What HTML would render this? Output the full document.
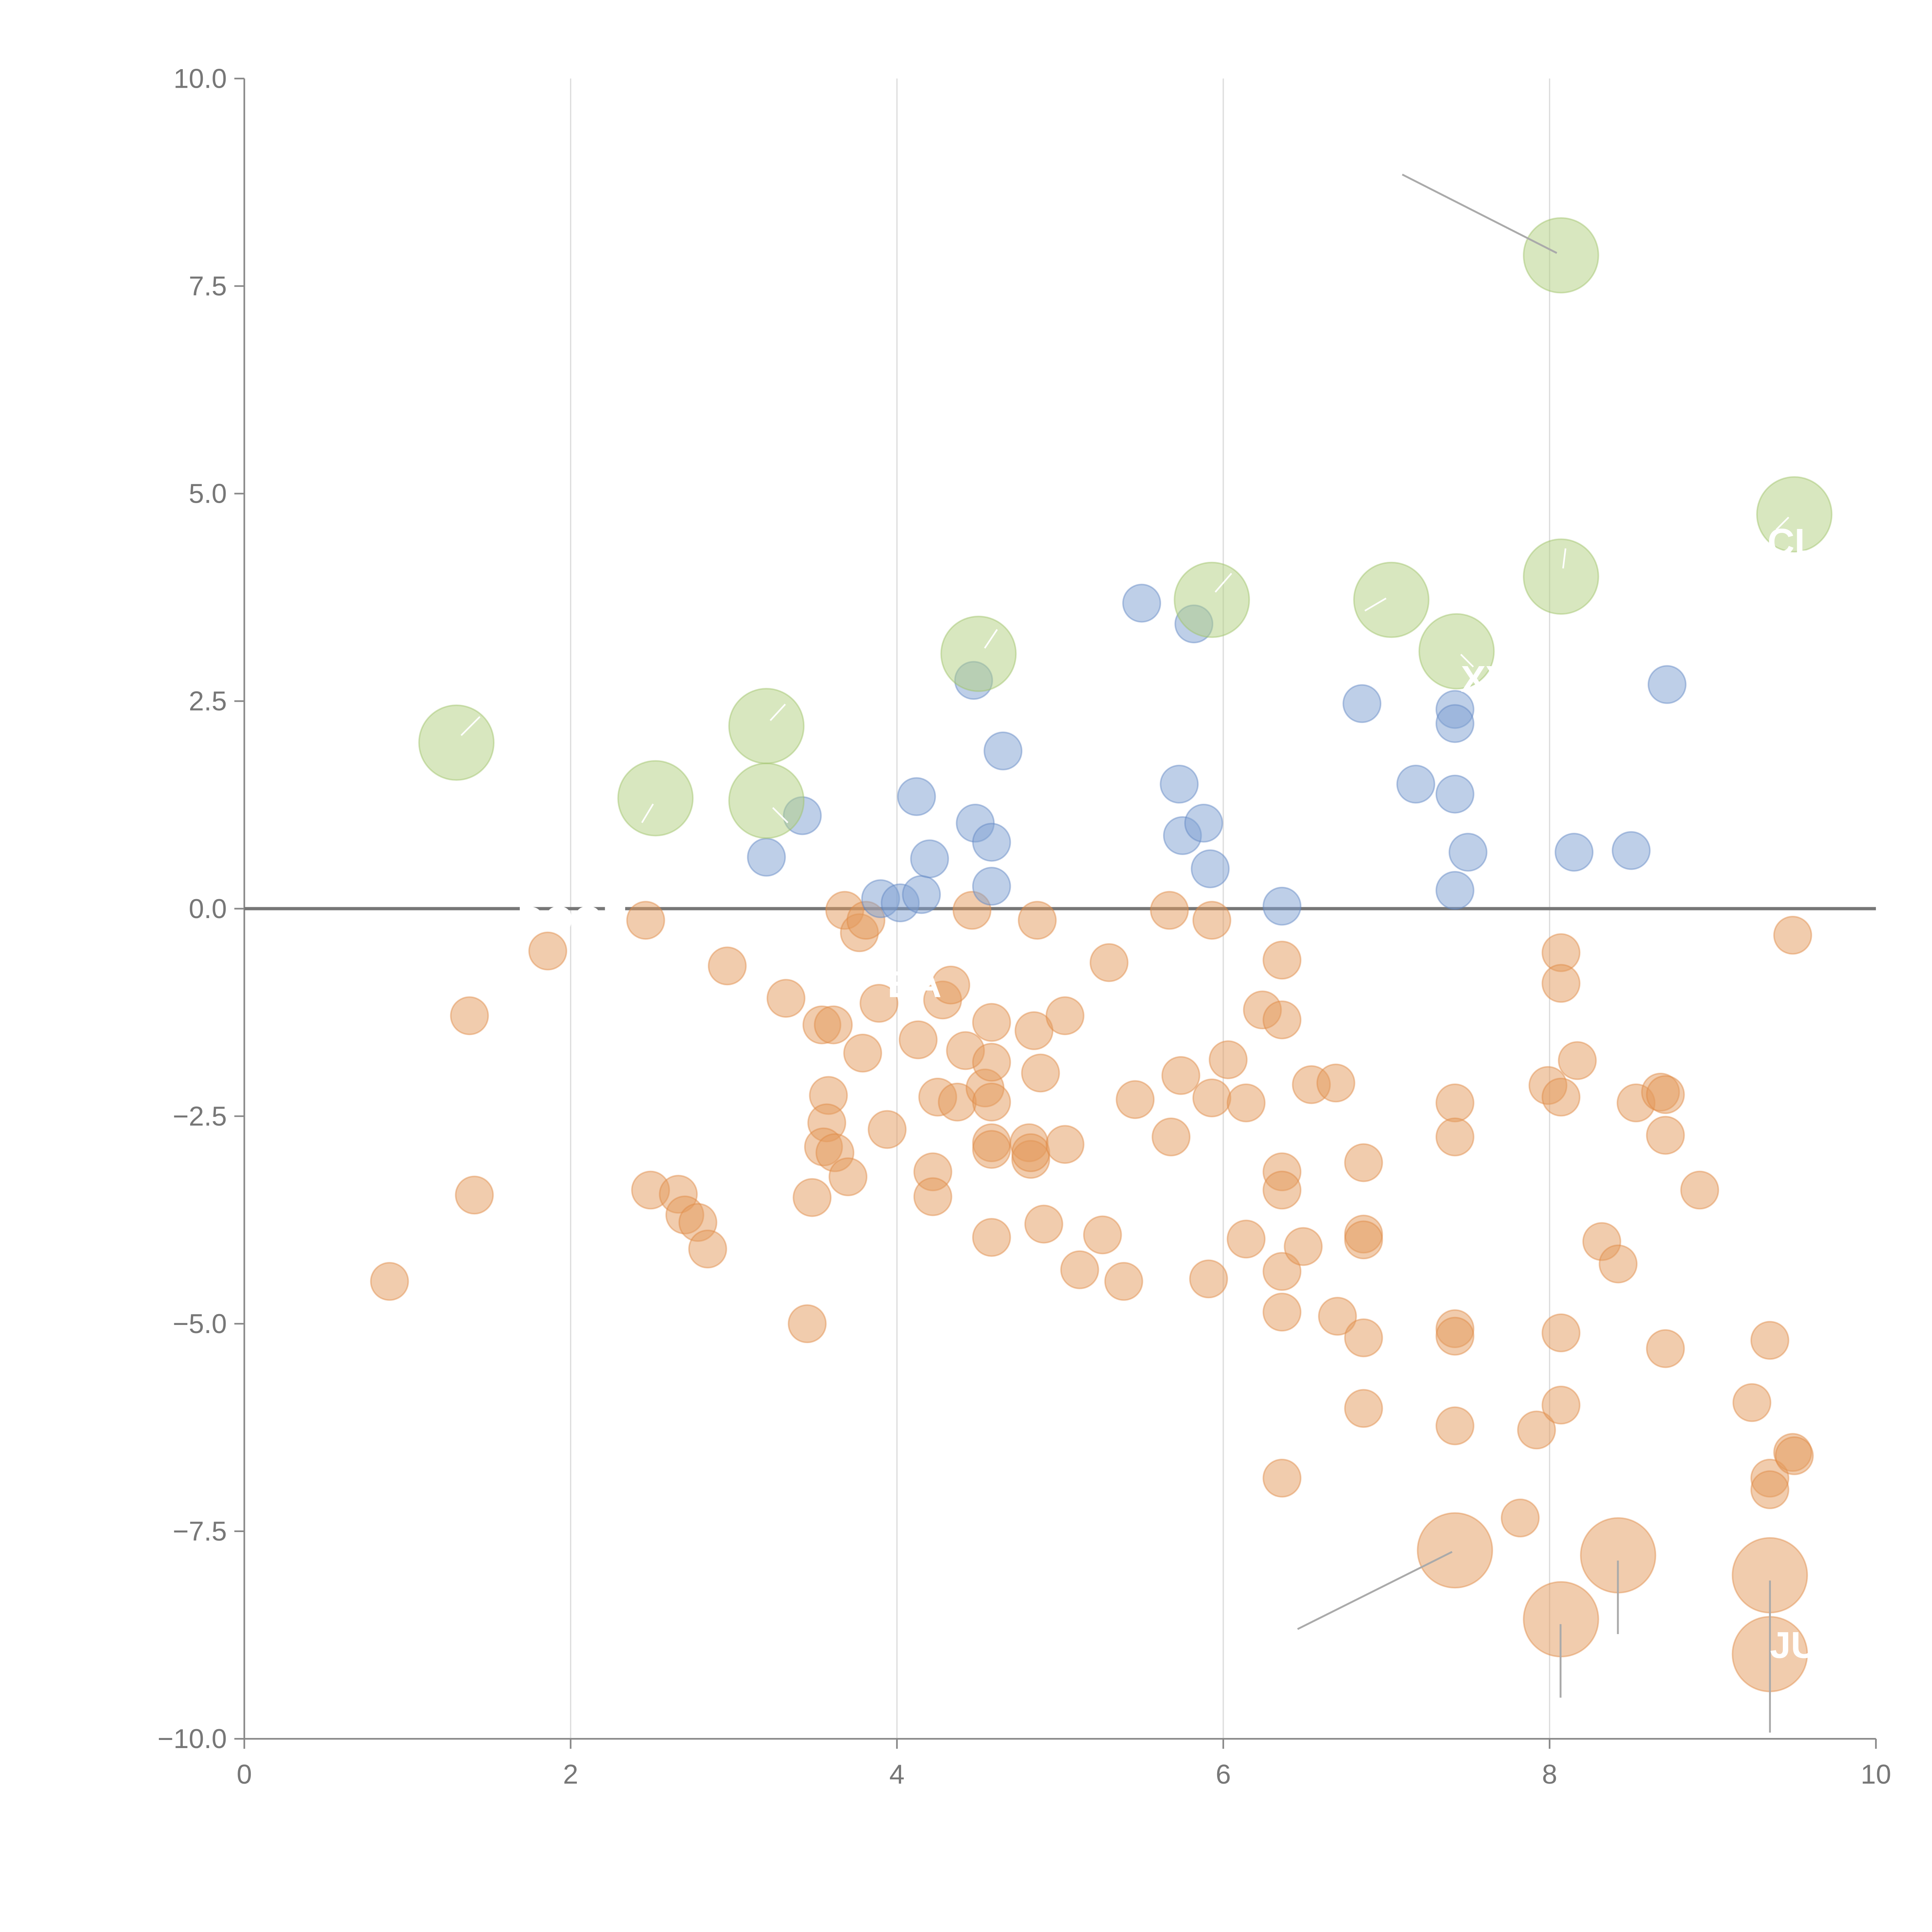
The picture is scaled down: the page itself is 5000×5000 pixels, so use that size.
<!DOCTYPE html>
<html><head><meta charset="utf-8">
<style>
html,body{margin:0;padding:0;background:#fff;}
svg{display:block;}
text{font-family:"Liberation Sans",sans-serif;}
</style></head>
<body>
<svg id="chart" width="5000" height="5000" viewBox="0 0 1550 1550" xmlns="http://www.w3.org/2000/svg">
<rect width="1550" height="1550" fill="#fff"/>
<g id="grid"></g>
<g id="axes"></g>
<g id="marks"></g>
<g id="annot"></g>
</svg>
<script>
const xTicks=[0,2,4,6,8,10];
const yTicks=[10,7.5,5,2.5,0,-2.5,-5,-7.5,-10];
const yTickLabels=["10.0","7.5","5.0","2.5","0.0","−2.5","−5.0","−7.5","−10.0"];
const greenX=[1.3,2.52,3.2,3.2,4.5,5.93,7.03,7.43,8.07,8.07,9.5];
const greenY=[2.0,1.33,2.2,1.3,3.07,3.72,3.72,3.1,4.0,7.87,4.75];
const blueX=[3.2,3.42,3.9,4.02,4.15,4.12,4.2,4.47,4.48,4.58,4.58,4.65,5.5,5.73,5.75,5.82,5.88,5.92,6.36,6.85,7.18,7.42,7.42,7.42,7.42,7.5,8.15,8.5,8.72];
const blueY=[0.62,1.12,0.12,0.07,0.17,1.35,0.6,2.75,1.03,0.8,0.27,1.9,3.68,1.5,0.88,3.43,1.03,0.48,0.03,2.47,1.5,2.4,2.23,1.38,0.22,0.68,0.68,0.7,2.7];
const orangeX=[0.89,1.38,1.41,1.86,2.46,2.49,2.66,2.70,2.78,2.84,2.96,3.32,3.45,3.48,3.54,3.58,3.57,3.55,3.62,3.61,3.70,3.68,3.77,3.81,3.79,3.89,3.94,4.13,4.22,4.22,4.25,4.28,4.33,4.37,4.42,4.46,4.54,4.58,4.58,4.58,4.58,4.58,4.58,4.81,4.82,4.82,4.84,4.86,4.88,4.90,5.03,5.03,5.12,5.26,5.30,5.39,5.46,5.67,5.68,5.74,5.91,5.93,5.93,6.03,6.14,6.14,6.24,6.36,6.36,6.36,6.36,6.36,6.36,6.36,6.49,6.54,6.69,6.70,6.86,6.86,6.86,6.86,6.86,7.42,7.42,7.42,7.42,7.42,7.82,7.92,7.99,8.07,8.07,8.07,8.07,8.07,8.17,8.32,8.42,8.53,8.68,8.71,8.71,8.71,8.92,9.24,9.35,9.35,9.35,9.49,9.49,9.50];
const orangeY=[-4.49,-1.29,-3.45,-0.51,-0.14,-3.39,-3.44,-3.69,-3.78,-4.10,-0.69,-1.08,-5.0,-3.48,-1.40,-2.25,-2.58,-2.87,-2.94,-1.40,-3.23,-0.02,-0.29,-0.14,-1.74,-1.14,-2.66,-1.58,-3.17,-3.47,-2.27,-1.10,-0.92,-2.33,-1.71,-0.02,-2.16,-2.33,-1.85,-1.37,-2.82,-2.9,-3.96,-2.82,-3.02,-2.94,-1.47,-0.14,-1.98,-3.80,-1.29,-2.84,-4.35,-3.93,-0.65,-4.49,-2.30,-0.02,-2.75,-2.01,-4.46,-2.28,-0.14,-1.82,-2.34,-3.98,-1.22,-0.62,-1.34,-3.17,-3.39,-4.37,-4.86,-6.86,-4.07,-2.12,-2.10,-4.91,-3.06,-3.92,-3.99,-5.17,-6.02,-2.34,-2.75,-5.06,-5.15,-6.23,-7.34,-6.28,-2.13,-0.53,-0.90,-2.27,-5.11,-5.98,-1.83,-4.01,-4.28,-2.34,-2.21,-2.24,-2.73,-5.30,-3.39,-5.95,-5.20,-6.86,-7.0,-0.32,-6.55,-6.59];
const bigOrangeX=[7.42,8.07,8.42,9.35,9.35];
const bigOrangeY=[-7.73,-8.56,-7.79,-8.03,-8.98];

const X0=196,X1=1505,Y0=1395,Y1=63;
const sx=v=>X0+(v-0)/(10-0)*(X1-X0);
const sy=v=>Y0-(v+10)/20*(Y0-Y1);
const NS="http://www.w3.org/2000/svg";
function mk(parent,tag,attrs){const e=document.createElementNS(NS,tag);for(const k in attrs)e.setAttribute(k,attrs[k]);parent.appendChild(e);return e;}
const grid=document.getElementById('grid'),axes=document.getElementById('axes'),marks=document.getElementById('marks'),annot=document.getElementById('annot');

xTicks.forEach(t=>{
  if(t>0&&t<10){const l=mk(grid,'line',{x1:sx(t),x2:sx(t),y1:Y1,y2:Y0,stroke:'#dcdcdc','stroke-width':1});
  
  }
  const tk=mk(axes,'line',{x1:sx(t),x2:sx(t),y1:Y0,y2:Y0+8,stroke:'#888','stroke-width':1.3});
  
  
  const tx=mk(axes,'text',{x:sx(t),y:Y0+36,'text-anchor':'middle','font-size':22,fill:'#777'});
  tx.textContent=t;
  
  
});
yTicks.forEach((t,i)=>{
  const tk=mk(axes,'line',{x1:X0-8,x2:X0,y1:sy(t),y2:sy(t),stroke:'#888','stroke-width':1.3});
  
  
  const tx=mk(axes,'text',{x:X0-14,y:sy(t)+7.5,'text-anchor':'end','font-size':22,fill:'#777'});
  tx.textContent=yTickLabels[i];
  
  
});
let a=mk(axes,'line',{x1:X0,x2:X0,y1:Y1,y2:Y0,stroke:'#888','stroke-width':1.3});


a=mk(axes,'line',{x1:X0,x2:X1,y1:Y0,y2:Y0,stroke:'#888','stroke-width':1.3});


a=mk(axes,'line',{x1:X0,x2:X1,y1:sy(0),y2:sy(0),stroke:'#777','stroke-width':2.6});



function bubbles(xs,ys,r,fill,stroke,name){
  xs.forEach((x,i)=>{
    const c=mk(marks,'circle',{cx:sx(x),cy:sy(ys[i]),r:r,fill:fill,'fill-opacity':0.5,stroke:stroke,'stroke-opacity':0.45,'stroke-width':1.2});
    
    
  });
}
bubbles(orangeX,orangeY,15,'#e49a5c','#e08a44','orange-bubble');
bubbles(bigOrangeX,bigOrangeY,30,'#e49a5c','#e08a44','large-orange-bubble');
bubbles(blueX,blueY,15,'#7e9fd2','#5f86c4','blue-bubble');
bubbles(greenX,greenY,30,'#b2cf80','#9dc067','green-bubble');

const lines=[[1125,140,1249,203],[1041,1307,1165,1245],[1252,1303,1252,1362],[1298,1252,1298,1311],[1420,1268,1420,1390]];
lines.forEach(l=>{const e=mk(annot,'line',{x1:l[0],y1:l[1],x2:l[2],y2:l[3],stroke:'#aaa','stroke-width':1.5});
  
  });
const wl=[[370,590,385,575],[515,660,524,645],[618,578,630,565],[790,520,800,505],[975,475,988,460],[1095,490,1112,480],[1254,456,1256,440],[1425,425,1435,415],[620,648,632,660],[1172,525,1182,535]];
wl.forEach(l=>{const e=mk(annot,'line',{x1:l[0],y1:l[1],x2:l[2],y2:l[3],stroke:'#fff','stroke-width':1.3});
  
  });
const labs=[["JU",1420,1330],["CL",1418,445],["BA",712,800],["XY",1172,555],["DOGE",415,748]];
labs.forEach(l=>{const t=mk(annot,'text',{x:l[1],y:l[2],'font-size':30,fill:'#fff','font-weight':'bold'});t.textContent=l[0];
  
  });
</script>
</body></html>
